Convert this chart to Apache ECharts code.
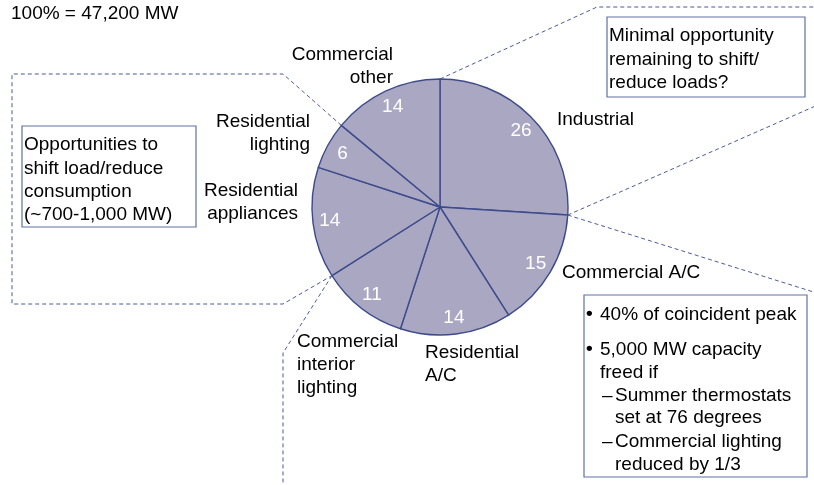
<!DOCTYPE html>
<html><head><meta charset="utf-8">
<script src="https://cdn.jsdelivr.net/npm/echarts@6/dist/echarts.min.js"></script>
<style>html,body{margin:0;padding:0;background:#fff}#c{width:814px;height:485px}</style>
</head><body><div id="c"></div>
<script>
// ---- data ----
const categories = ['Industrial', 'Commercial A/C', 'Residential\nA/C', 'Commercial\ninterior\nlighting', 'Residential\nappliances', 'Residential\nlighting', 'Commercial\nother'];
const shares = [26, 15, 14, 11, 14, 6, 14];
const totalLabel = '100% = 47,200 MW';
const noteLeft = ['Opportunities to', 'shift load/reduce', 'consumption', '(~700-1,000 MW)'];
const noteTop = ['Minimal opportunity', 'remaining to shift/', 'reduce loads?'];
const noteBottomBullets = [['40% of coincident peak'], ['5,000 MW capacity', 'freed if']];
const noteBottomDashes = [['Summer thermostats', 'set at 76 degrees'], ['Commercial lighting', 'reduced by 1/3']];

// ---- layout / style ----
const FONT = '"Liberation Sans", Arial, Helvetica, sans-serif';
const CX = 440, CY = 207, R = 128;
const FILL = '#aaa7c3', EDGE = '#3e4b8b', DASH = '#4d5b98', BOX = '#6370a3';
const outerPos = [[557, 120, 'left'], [562, 273, 'left'], [425, 364, 'left'], [297, 365, 'left'], [298, 202, 'right'], [310, 133, 'right'], [393, 66, 'right']];

const total = shares.reduce((a, b) => a + b, 0);
function boundary(k) {
  let cum = 0;
  for (let i = 0; i < k; i++) cum += shares[i];
  const a = (90 - cum / total * 360) * Math.PI / 180;
  return [CX + R * Math.cos(a), CY - R * Math.sin(a)];
}
const b0 = boundary(0), b1 = boundary(1), b4 = boundary(4), b6 = boundary(6);

const data = categories.map((c, i) => ({ name: c, value: shares[i] }));

function txt(x, y, s, opt) {
  opt = opt || {};
  return { type: 'text', x: x, y: y, z: 10, silent: true,
    style: { text: s, fill: opt.fill || '#000', font: (opt.weight || 'normal') + ' ' + (opt.size || 19) + 'px ' + FONT,
      align: opt.align || 'left', textAlign: opt.align || 'left',
      verticalAlign: 'middle', textVerticalAlign: 'middle' } };
}
function dashLine(pts) {
  return { type: 'polyline', z: 5, silent: true, shape: { points: pts },
    style: { stroke: DASH, lineWidth: 1, lineDash: [4, 3], fill: null } };
}
function box(x, y, w, h) {
  return { type: 'rect', z: 6, silent: true, shape: { x: x, y: y, width: w, height: h },
    style: { stroke: BOX, lineWidth: 1.2, fill: '#fff' } };
}

const graphics = [];
graphics.push(dashLine([b6, [283, 74], [12, 74], [12, 304], [283, 304], b4]));
graphics.push(dashLine([b4, [283, 353], [283, 490]]));
graphics.push(dashLine([b0, [597, 7], [820, 7]]));
graphics.push(dashLine([b1, [820, 104]]));
graphics.push(dashLine([b1, [820, 294]]));

graphics.push(txt(11, 14, totalLabel));

graphics.push(box(22, 126, 174, 101));
noteLeft.forEach((s, i) => graphics.push(txt(24, 145 + i * 23.3, s)));

graphics.push(box(607, 17, 198, 80));
noteTop.forEach((s, i) => graphics.push(txt(609, 36 + i * 23.5, s)));

graphics.push(box(584, 295, 223, 182));
const bulletY = [[315], [350, 373]];
noteBottomBullets.forEach((lines, i) => {
  graphics.push(txt(586, bulletY[i][0] - 1, '•', { size: 19, weight: 'bold' }));
  lines.forEach((s, j) => graphics.push(txt(600, bulletY[i][j], s)));
});
const dashY = [[396, 418], [442, 465]];
noteBottomDashes.forEach((lines, i) => {
  graphics.push(txt(602, dashY[i][0], '–'));
  lines.forEach((s, j) => graphics.push(txt(615, dashY[i][j], s)));
});

const chart = echarts.init(document.getElementById('c'));
chart.setOption({
  animation: false,
  backgroundColor: '#fff',
  series: [
    {
      type: 'pie', center: [CX, CY], radius: [0, R], startAngle: 90, clockwise: true,
      avoidLabelOverlap: false, silent: true, z: 2,
      itemStyle: { color: FILL, borderColor: EDGE, borderWidth: 1.4 },
      label: { show: true, position: 'outside', formatter: '{b}', color: '#000',
        fontSize: 19, fontFamily: FONT, lineHeight: 23 },
      labelLine: { show: false },
      labelLayout: function (p) {
        const q = outerPos[p.dataIndex];
        return { x: q[0], y: q[1], align: q[2], verticalAlign: 'middle' };
      },
      data: data
    },
    {
      type: 'pie', center: [CX, CY], radius: [0, R * 1.69], startAngle: 90, clockwise: true,
      avoidLabelOverlap: false, silent: true, z: 3,
      itemStyle: { color: 'rgba(0,0,0,0)', borderWidth: 0 },
      label: { show: true, position: 'inside', formatter: '{c}', color: '#fff',
        fontSize: 19, fontFamily: FONT },
      labelLine: { show: false },
      data: data
    }
  ],
  graphic: graphics
});
</script></body></html>
